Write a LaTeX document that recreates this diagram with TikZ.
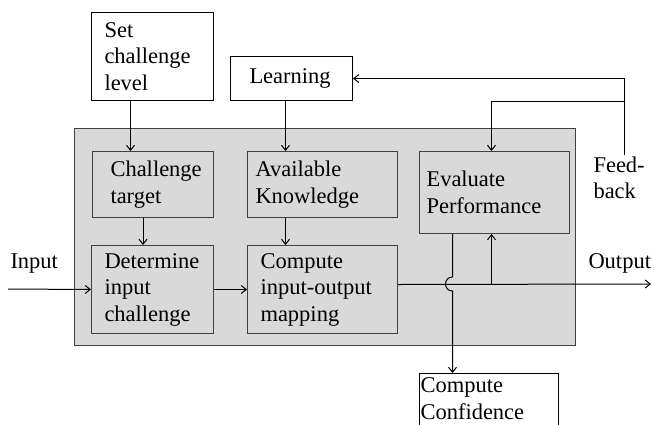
\documentclass[tikz,border=0pt]{standalone}
\usepackage{fontspec}
\setmainfont{Liberation Serif}
\usetikzlibrary{arrows.meta, positioning, calc}
\definecolor{panelgray}{RGB}{217,217,217}
\definecolor{edgegray}{RGB}{64,64,64}
\begin{document}
\begin{tikzpicture}[x=1pt, y=-1pt, line width=1pt, >={Straight Barb[length=5pt,width=8pt]},
    blk/.style={rectangle, draw, fill=white, anchor=north west, align=left, inner sep=0pt, font=\fontsize{22.5}{26.5}\selectfont},
    inblk/.style={blk, draw=edgegray, fill=panelgray},
    lbl/.style={inner sep=0pt, align=left, font=\fontsize{22.5}{26.5}\selectfont}]
    \useasboundingbox (0,0) rectangle (654,424);
    \node[rectangle, draw=edgegray, fill=panelgray, anchor=north west, inner sep=0pt, minimum width=501pt, minimum height=217pt] (sys) at (74,128) {};
    \node[blk, minimum width=122pt, minimum height=88pt, text width=96pt] (setlvl) at (91,12) {Set\\challenge\\level};
    \node[blk, minimum width=122pt, minimum height=44pt, text width=84pt] (learn) at (230,56) {Learning};
    \node[inblk, minimum width=121pt, minimum height=66pt, text width=85pt] (target) at (92,151) {Challenge\\target};
    \node[inblk, minimum width=150pt, minimum height=66pt, text width=134pt] (know) at (247,151) {Available\\Knowledge};
    \node[inblk, minimum width=150pt, minimum height=82pt, text width=136pt] (evalp) at (419,151) {Evaluate\\Performance};
    \node[inblk, minimum width=122pt, minimum height=88pt, text width=96pt] (determ) at (91,245) {Determine\\input\\challenge};
    \node[inblk, minimum width=150pt, minimum height=88pt, text width=124pt] (mapping) at (247,245) {Compute\\input-output\\mapping};
    \node[blk, minimum width=139pt, text width=137pt, text height=19pt, text depth=42pt] (confid) at (419,373) {Compute\\Confidence};
    \node[lbl, anchor=base west] (inlbl) at (10,268) {Input};
    \node[lbl, anchor=base west] (outlbl) at (588,268) {Output};
    \node[lbl, anchor=north west] (fblbl) at (593,156) {Feed-\\back};
    \coordinate (inp) at (8,289);
    \coordinate (outend) at (651,284);
    \coordinate (fb) at (624,155);
    \coordinate (hop) at ($(evalp.south |- outend)+(-42,0)$);
    \draw[->] ($(setlvl.south)+(-22,0)$) coordinate (a1) -- (a1 |- target.north);
    \draw[->] ($(learn.south)+(-6,0)$) coordinate (a2) -- (a2 |- know.north);
    \draw[->] ($(target.south)+(-10,0)$) coordinate (a3) -- (a3 |- determ.north);
    \draw[->] ($(know.south)+(-37,0)$) coordinate (a4) -- (a4 |- mapping.north);
    \draw[->] (inp) -- (determ.west);
    \draw[->] (determ.east) -- (mapping.west);
    \draw[->] ([yshift=5pt]mapping.east) -- (outend);
    \draw[->] ($(evalp.south |- outend)+(-3,0)$) -- ([xshift=-3pt]evalp.south);
    \draw[->] ([xshift=-42pt]evalp.south) -- ($(hop)+(0,-7)$) .. controls ($(hop)+(-9.3,-7)$) and ($(hop)+(-9.3,7)$) .. ($(hop)+(0,7)$) -- (hop |- confid.north);
    \draw[->] (fb) |- (learn.east);
    \draw[->] (fb |- learn.south) -| ([xshift=-3pt]evalp.north);
\end{tikzpicture}
\end{document}
